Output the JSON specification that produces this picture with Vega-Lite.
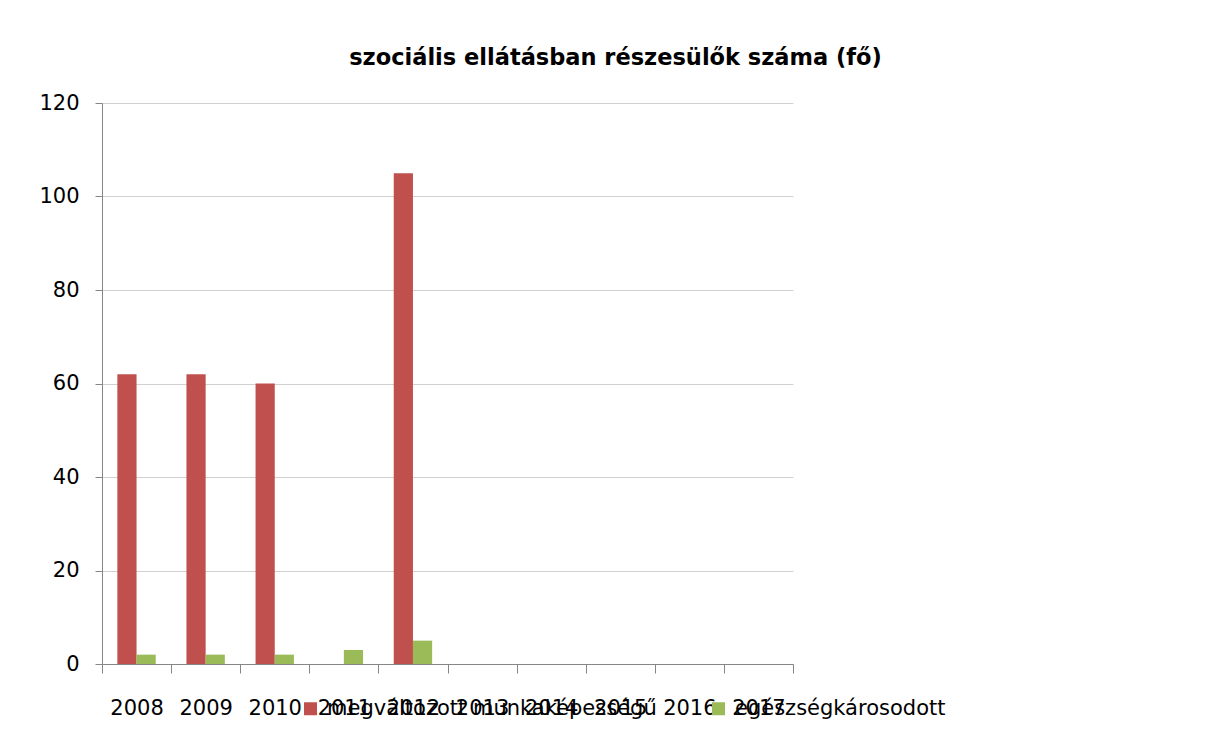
{
  "$schema": "https://vega.github.io/schema/vega-lite/v6.json",
  "width": 691,
  "height": 561,
  "autosize": {"type": "none"},
  "padding": {"left": 102, "top": 103, "right": 415, "bottom": 80},
  "background": "white",
  "title": {
    "text": "szociális ellátásban részesülők száma (fő)",
    "font": "DejaVu Sans",
    "fontSize": 22.5,
    "fontWeight": "bold",
    "color": "#000000",
    "anchor": "middle",
    "dx": 168,
    "offset": 23
  },
  "data": {
    "values": [
      {"ev": "2008", "sorozat": "megváltozott munkaképességű", "fo": 62},
      {"ev": "2008", "sorozat": "egészségkárosodott", "fo": 2},
      {"ev": "2009", "sorozat": "megváltozott munkaképességű", "fo": 62},
      {"ev": "2009", "sorozat": "egészségkárosodott", "fo": 2},
      {"ev": "2010", "sorozat": "megváltozott munkaképességű", "fo": 60},
      {"ev": "2010", "sorozat": "egészségkárosodott", "fo": 2},
      {"ev": "2011", "sorozat": "egészségkárosodott", "fo": 3},
      {"ev": "2012", "sorozat": "megváltozott munkaképességű", "fo": 105},
      {"ev": "2012", "sorozat": "egészségkárosodott", "fo": 5}
    ]
  },
  "mark": {"type": "bar"},
  "encoding": {
    "x": {
      "field": "ev",
      "type": "nominal",
      "title": null,
      "scale": {
        "domain": ["2008", "2009", "2010", "2011", "2012", "2013", "2014", "2015", "2016", "2017"],
        "paddingInner": 0,
        "paddingOuter": 0
      },
      "axis": {
        "labelAngle": 0,
        "tickBand": "extent",
        "tickSize": 9,
        "tickColor": "#868686",
        "domainColor": "#868686",
        "labelFont": "DejaVu Sans",
        "labelFontSize": 21,
        "labelColor": "#000000",
        "labelPadding": 24,
        "grid": false
      }
    },
    "xOffset": {
      "field": "sorozat",
      "type": "nominal",
      "sort": ["megváltozott munkaképességű", "egészségkárosodott"],
      "scale": {"paddingOuter": 0.8, "paddingInner": 0}
    },
    "y": {
      "field": "fo",
      "type": "quantitative",
      "title": null,
      "scale": {"domain": [0, 120], "nice": false},
      "axis": {
        "values": [0, 20, 40, 60, 80, 100, 120],
        "tickSize": 7,
        "tickColor": "#868686",
        "domainColor": "#868686",
        "gridColor": "#D0D0D0",
        "labelFont": "DejaVu Sans",
        "labelFontSize": 21,
        "labelColor": "#000000",
        "labelPadding": 16
      }
    },
    "color": {
      "field": "sorozat",
      "type": "nominal",
      "sort": ["megváltozott munkaképességű", "egészségkárosodott"],
      "scale": {
        "domain": ["megváltozott munkaképességű", "egészségkárosodott"],
        "range": ["#C0504D", "#9BBB59"]
      },
      "legend": {
        "title": null,
        "orient": "none",
        "direction": "horizontal",
        "legendX": 198,
        "legendY": 595,
        "symbolType": "square",
        "symbolSize": 169,
        "symbolStrokeWidth": 0,
        "labelOffset": 6,
        "labelFont": "DejaVu Sans",
        "labelFontSize": 21,
        "labelColor": "#000000",
        "labelLimit": 600,
        "columnPadding": 51
      }
    }
  },
  "config": {
    "view": {"stroke": null}
  }
}
